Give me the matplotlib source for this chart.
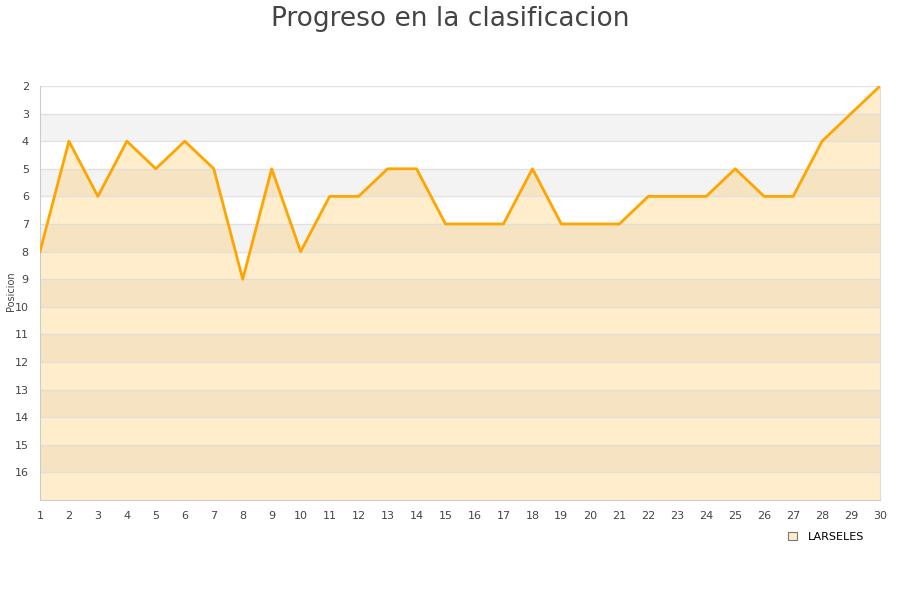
import matplotlib
matplotlib.use("Agg")
import matplotlib.pyplot as plt
from matplotlib.patches import Patch

jornadas = list(range(1, 31))
posiciones = [8, 4, 6, 4, 5, 4, 5, 9, 5, 8, 6, 6, 5, 5, 7, 7, 7, 5, 7, 7,
              7, 6, 6, 6, 5, 6, 6, 4, 3, 2]
yticks = list(range(2, 17))
equipo = "LARSELES"

fig = plt.figure(figsize=(9, 6), dpi=100)
ax = fig.add_axes([0.0444, 0.1667, 0.9334, 0.69])

# alternating bands behind
for y in range(3, 17, 2):
    ax.axhspan(y, y + 1, color='#f3f3f3', zorder=0, lw=0)

ax.fill_between(jornadas, posiciones, 17, color='#FFA500', alpha=0.2, lw=0, zorder=1)
for y in yticks:
    ax.axhline(y, color='#dddddd', lw=1, zorder=2, alpha=0.8)
ax.plot(jornadas, posiciones, color='#FFA500', lw=2, zorder=3)

ax.set_xlim(1, 30)
ax.set_ylim(17, 2)
ax.set_xticks(jornadas)
ax.set_yticks(yticks)
ax.tick_params(axis='both', length=0, labelsize=8, colors='#444444', pad=8)
ax.spines['top'].set_visible(False)
ax.spines['left'].set_color('#cccccc')
ax.spines['bottom'].set_color('#cccccc')
ax.spines['right'].set_color('#dddddd')

fig.text(0.012, 0.515, 'Posicion', fontsize=7, color='#444444',
         rotation=90, ha='center', va='center')
fig.suptitle('Progreso en la clasificacion', fontsize=19, color='#444444', y=0.99)

handle = Patch(facecolor='#ffecc8', edgecolor='#777777', lw=0.8)
fig.legend([handle], [equipo], loc='center', bbox_to_anchor=(0.918, 0.105),
           frameon=False, fontsize=8, handlelength=0.8, handleheight=0.8,
           handletextpad=1.0)

fig.savefig('out.png', dpi=100)
